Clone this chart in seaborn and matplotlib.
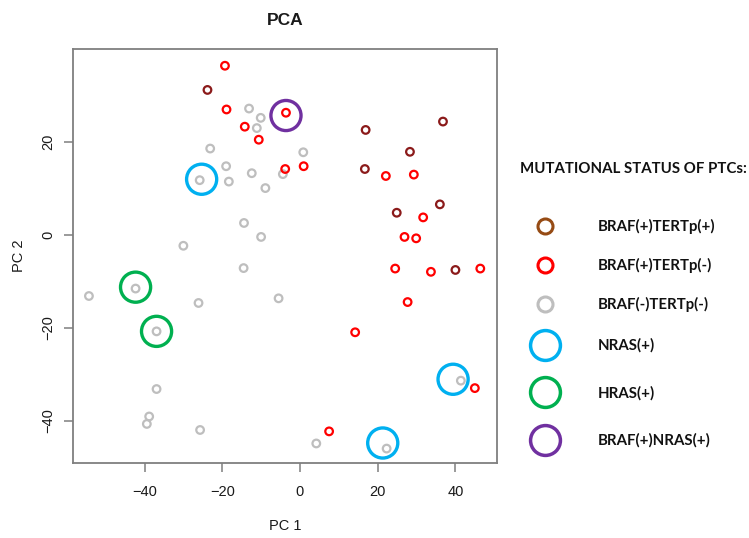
import numpy as np
import pandas as pd
import seaborn as sns
import matplotlib
matplotlib.use("Agg")
import matplotlib.pyplot as plt
from matplotlib.lines import Line2D

# ---------------- data ----------------
group_labels = ["BRAF(+)TERTp(+)", "BRAF(+)TERTp(-)", "BRAF(-)TERTp(-)"]
ring_labels = ["NRAS(+)", "HRAS(+)", "BRAF(+)NRAS(+)"]

pc1_btp = [-23.8, 16.9, 36.8, 28.3, 16.7, 36.0, 24.9, 40.0]
pc2_btp = [31.1, 22.5, 24.3, 17.8, 14.1, 6.5, 4.7, -7.6]

pc1_btn = [-19.3, -18.9, -14.2, -10.6, -3.6, -3.8, 0.95, 22.1, 29.3, 31.7,
           26.9, 29.9, 24.5, 33.7, 46.4, 27.7, 14.2, 45.0, 7.5]
pc2_btn = [36.3, 26.9, 23.2, 20.4, 26.2, 14.1, 14.7, 12.6, 12.9, 3.7,
           -0.5, -0.8, -7.3, -8.0, -7.3, -14.5, -21.0, -33.0, -42.3]

pc1_neg = [-13.1, -10.1, -11.1, -23.1, 0.85, -19.0, -12.4, -18.3, -8.9, -25.8,
           -4.4, -14.4, -10.0, -30.0, -14.5, -42.3, -54.3, -26.1, -5.5, -36.9,
           -36.9, -38.8, -39.4, -25.7, 41.4, 4.2, 22.3]
pc2_neg = [27.1, 25.1, 22.9, 18.5, 17.7, 14.7, 13.2, 11.4, 10.0, 11.7,
           13.0, 2.5, -0.5, -2.4, -7.2, -11.6, -13.2, -14.7, -13.7, -20.8,
           -33.2, -39.1, -40.7, -42.0, -31.4, -44.9, -46.0]

pc1_nras = [-25.3, 39.4, 21.3]
pc2_nras = [11.9, -31.1, -44.8]
pc1_hras = [-42.3, -36.9]
pc2_hras = [-11.3, -20.8]
pc1_bnras = [-3.6]
pc2_bnras = [25.6]

x_ticks = [-40, -20, 0, 20, 40]
y_ticks = [-40, -20, 0, 20]

point_colors = {"BRAF(+)TERTp(+)": "#8B1A1A", "BRAF(+)TERTp(-)": "#FF0000",
                "BRAF(-)TERTp(-)": "#BEBEBE"}
legend_point_colors = ["#964B14", "#FF0000", "#BEBEBE"]
ring_colors = {"NRAS(+)": "#00B0F0", "HRAS(+)": "#00B050", "BRAF(+)NRAS(+)": "#7030A0"}

pts = pd.DataFrame({
    "PC1": pc1_neg + pc1_btn + pc1_btp,
    "PC2": pc2_neg + pc2_btn + pc2_btp,
    "group": [group_labels[2]] * len(pc1_neg) + [group_labels[1]] * len(pc1_btn)
             + [group_labels[0]] * len(pc1_btp),
})
rings = pd.DataFrame({
    "PC1": pc1_nras + pc1_hras + pc1_bnras,
    "PC2": pc2_nras + pc2_hras + pc2_bnras,
    "group": [ring_labels[0]] * len(pc1_nras) + [ring_labels[1]] * len(pc1_hras)
             + [ring_labels[2]] * len(pc1_bnras),
})

# ---------------- figure ----------------
sns.set_style("white")
plt.rcParams["font.family"] = ["Liberation Sans", "DejaVu Sans"]

fig = plt.figure(figsize=(7.49, 5.38), dpi=100)
ax = fig.add_axes([73 / 749, 1 - 463 / 538, (497 - 73) / 749, (463 - 49) / 538])


def hollow(coll, lw):
    fc = coll.get_facecolors()
    coll.set_edgecolors(fc)
    coll.set_facecolors("none")
    coll.set_linewidths(lw)


sns.scatterplot(data=pts, x="PC1", y="PC2", hue="group", palette=point_colors,
                s=30, legend=False, ax=ax)
hollow(ax.collections[-1], 1.6)
sns.scatterplot(data=rings, x="PC1", y="PC2", hue="group", palette=ring_colors,
                s=470, legend=False, ax=ax)
hollow(ax.collections[-1], 2.4)

ax.set_xlim(-58.4, 50.7)
ax.set_ylim(-49.1, 39.9)
ax.set_xticks(x_ticks)
ax.set_yticks(y_ticks)
ax.set_xticklabels([str(v) if v >= 0 else "\u2212" + str(-v) for v in x_ticks])
ax.set_yticklabels([str(v) if v >= 0 else "\u2212" + str(-v) for v in y_ticks],
                   rotation=90, va="center")
for s in ax.spines.values():
    s.set_color("#7F7F7F")
    s.set_linewidth(1.3)
ax.tick_params(axis="both", length=6.5, width=1.1, color="#7F7F7F",
               labelsize=10.5, labelcolor="#1A1A1A", direction="out",
               bottom=True, left=True)
ax.tick_params(axis="x", pad=9)
ax.tick_params(axis="y", pad=6)
ax.set_xlabel("PC 1", fontsize=10.5, color="#1A1A1A", labelpad=15)
ax.set_ylabel("PC 2", fontsize=10.5, color="#1A1A1A", labelpad=11)
ax.set_title("PCA", fontsize=12.5, fontweight="bold", color="#1A1A1A", pad=17)

# ---------------- legend ----------------
leg_font = {"family": ["Lato", "DejaVu Sans"], "weight": "bold", "size": 10.8}
fig.text(520 / 749, 1 - 169 / 538, "MUTATIONAL STATUS OF PTCs:",
         fontdict=leg_font, ha="left", va="center", color="#111111")

h1 = [Line2D([], [], ls="", marker="o", ms=10.8, mfc="none", mec=c, mew=2.2)
      for c in legend_point_colors]
h2 = [Line2D([], [], ls="", marker="o", ms=21.5, mfc="none", mec=ring_colors[l], mew=2.5)
      for l in ring_labels]

common = dict(loc="center left", frameon=False, prop=leg_font, borderpad=0,
              borderaxespad=0, handlelength=2.4, handletextpad=2.33,
              bbox_transform=fig.transFigure)
leg1 = fig.legend(h1, group_labels, bbox_to_anchor=(527 / 749, 1 - 265.7 / 538),
                  labelspacing=1.6, **common)
leg2 = fig.legend(h2, ring_labels, bbox_to_anchor=(527 / 749, 1 - 393.3 / 538),
                  labelspacing=2.2, **common)
for lg in (leg1, leg2):
    for t in lg.get_texts():
        t.set_color("#111111")

fig.savefig("out.png", dpi=100)
